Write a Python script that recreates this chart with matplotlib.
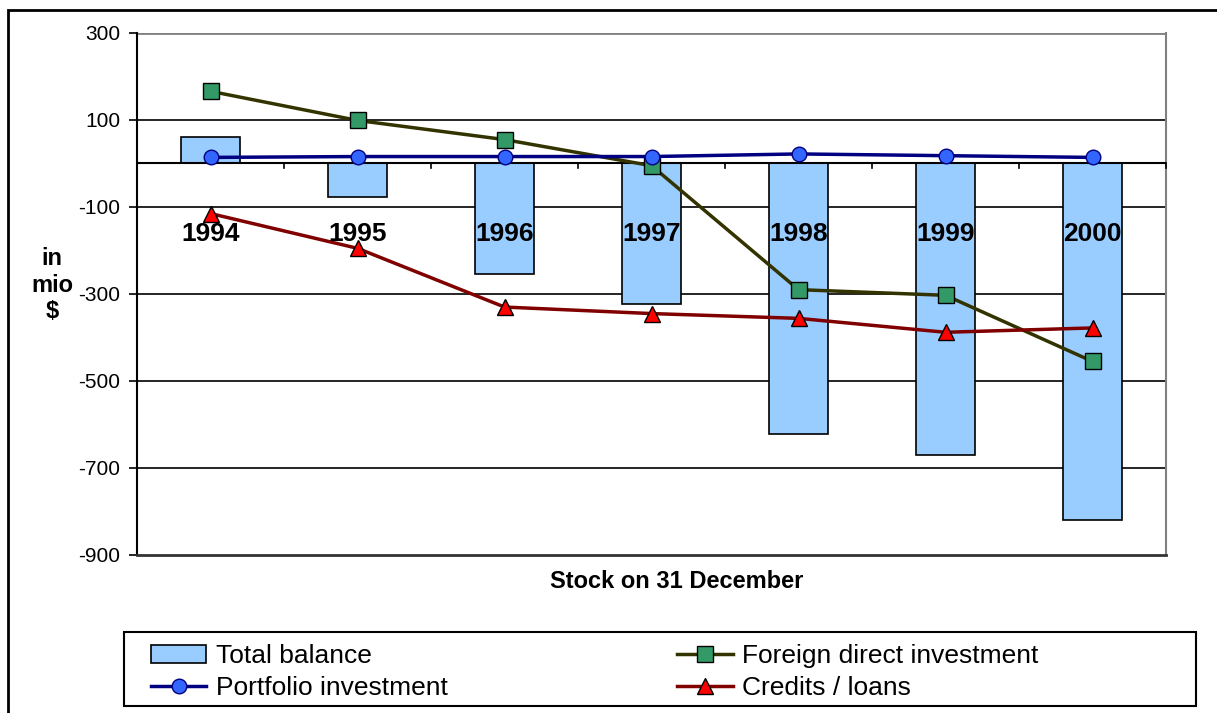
import numpy as np
import matplotlib.pyplot as plt
from matplotlib.patches import Rectangle

plt.rcParams['font.family'] = ['Liberation Sans', 'DejaVu Sans']
plt.rcParams['axes.unicode_minus'] = False

years = ['1994', '1995', '1996', '1997', '1998', '1999', '2000']
total_balance = [62, -76, -255, -324, -622, -670, -820]
fdi = [166, 99, 55, -5, -290, -303, -455]
portfolio = [14, 16, 16, 16, 22, 18, 14]
credits = [-115, -195, -330, -345, -356, -388, -378]

fig = plt.figure(figsize=(12.17, 7.13), dpi=100)
ax = fig.add_axes([137 / 1217, 1 - 555 / 713, (1166 - 137) / 1217, (555 - 33) / 713])

x = np.arange(len(years)) + 0.5

# gridlines
for v in [100, -100, -300, -500, -700]:
    ax.axhline(v, color='black', lw=1.2, zorder=0)
ax.axhline(300, color='#808080', lw=2, zorder=0)

bars = ax.bar(x, total_balance, width=0.4, color='#99CCFF', edgecolor='black', lw=1.2,
              zorder=2)
l_fdi, = ax.plot(x, fdi, color='#333300', lw=2.5, marker='s', ms=11, mfc='#339966',
                 mec='black', mew=1, zorder=4)
l_port, = ax.plot(x, portfolio, color='#000080', lw=2.5, marker='o', ms=10.5, mfc='#3366FF',
                  mec='#000080', mew=1, zorder=5)
l_cred, = ax.plot(x, credits, color='#800000', lw=2.5, marker='^', ms=12, mfc='#FF0000',
                  mec='black', mew=1, zorder=4)

# category axis at zero
ax.axhline(0, color='black', lw=1.5, zorder=3)
for b in range(1, len(years) + 1):
    ax.plot([b, b], [0, -10], color='black', lw=1.2, zorder=3, clip_on=False)
for xi, yr in zip(x, years):
    ax.text(xi, -162, yr, ha='center', va='center', fontsize=19, fontweight='bold', zorder=6)

ax.set_xlim(0, 7)
ax.set_ylim(-900, 300)
ax.set_yticks([300, 100, -100, -300, -500, -700, -900])
ax.set_xticks([])
ax.tick_params(axis='y', labelsize=15, length=6, width=1.2, direction='out', pad=6)
ax.spines['right'].set_color('#808080')
ax.spines['right'].set_linewidth(1.5)
ax.spines['top'].set_visible(False)
ax.spines['left'].set_linewidth(1.5)
ax.spines['bottom'].set_linewidth(2)
ax.spines['bottom'].set_color('#333333')

fig.text(52 / 1217, 1 - 285 / 713, 'in\nmio\n$', ha='center', va='center',
         fontsize=17, fontweight='bold', linespacing=1.2)
fig.text(677 / 1217, 1 - 582 / 713, 'Stock on 31 December', ha='center', va='center',
         fontsize=17, fontweight='bold')

# legend frame drawn separately, entries placed inside
fig.add_artist(Rectangle((124 / 1217, 1 - 706 / 713), (1196 - 124) / 1217, 74 / 713,
                         transform=fig.transFigure, fill=False, edgecolor='black', lw=1.5))
leg = fig.legend([bars, l_port, l_fdi, l_cred],
                 ['Total balance', 'Portfolio investment', 'Foreign direct investment',
                  'Credits / loans'],
                 loc='center left', bbox_to_anchor=(151 / 1217, 1 - 672 / 713),
                 ncol=2, fontsize=19, frameon=False, handlelength=2.1, handletextpad=0.35,
                 borderaxespad=0, labelspacing=0.3, borderpad=0, columnspacing=8.7)

# outer chart border
fig.add_artist(Rectangle((8 / 1217, -0.1), 1.2, 1 - 10 / 713 + 0.1, transform=fig.transFigure,
                         fill=False, edgecolor='black', lw=2))

fig.savefig('out.png', dpi=100)
